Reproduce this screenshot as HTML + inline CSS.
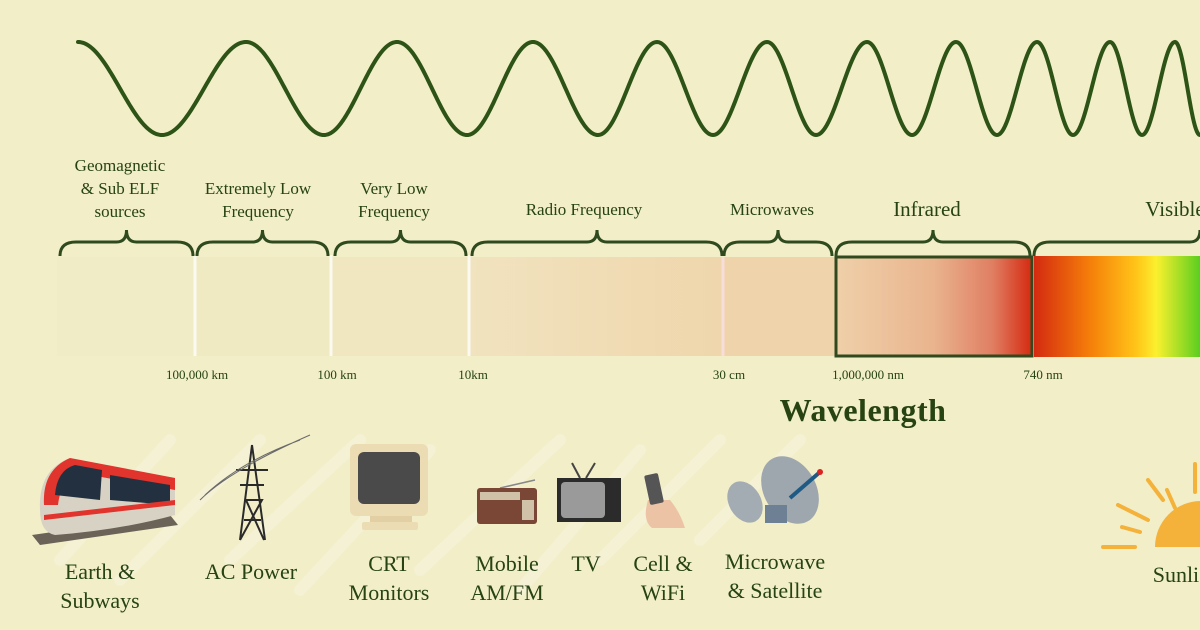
<!DOCTYPE html>
<html><head><meta charset="utf-8"><style>
html,body{margin:0;padding:0}
body{width:1200px;height:630px;background:#f1eec8;overflow:hidden;position:relative;font-family:"Liberation Serif",serif;color:#2c4a1a}
svg{position:absolute;left:0;top:0}
</style></head><body>
<svg width="1200" height="630" viewBox="0 0 1200 630" xmlns="http://www.w3.org/2000/svg">
<defs>
<linearGradient id="rf" x1="0" x2="1"><stop offset="0" stop-color="#f1e3bf"/><stop offset="1" stop-color="#efd6ac"/></linearGradient>
<linearGradient id="ir" x1="0" x2="1"><stop offset="0" stop-color="#efd0a9"/><stop offset="0.5" stop-color="#e9b48e"/><stop offset="0.8" stop-color="#e07e62"/><stop offset="1" stop-color="#d42a10"/></linearGradient>
<linearGradient id="vis" x1="0" x2="1"><stop offset="0" stop-color="#d42a10"/><stop offset="0.33" stop-color="#f57f0a"/><stop offset="0.6" stop-color="#ffc418"/><stop offset="0.72" stop-color="#fbf02e"/><stop offset="1" stop-color="#4ccb1e"/></linearGradient>
</defs>
<g stroke="#f6f4dc" stroke-width="12" stroke-linecap="round" opacity="0.6" fill="none">
<path d="M60 560 L170 440"/><path d="M120 580 L260 440"/><path d="M230 560 L360 440"/><path d="M300 590 L430 450"/><path d="M420 570 L560 440"/><path d="M520 590 L640 450"/><path d="M600 560 L720 440"/><path d="M700 540 L800 440"/>
</g>
<path id="wave" fill="none" stroke="#2d5416" stroke-width="4" stroke-linecap="round"/>
<rect x="57" y="257" width="138" height="99" fill="#efecc6"/>
<rect x="195" y="257" width="135" height="99" fill="#f0eac3"/>
<rect x="330" y="257" width="138" height="99" fill="#f0e6bf"/>
<rect x="468" y="257" width="254" height="99" fill="url(#rf)"/>
<rect x="722" y="257" width="113" height="99" fill="#efd3aa"/>
<rect x="836" y="257" width="196" height="99" fill="url(#ir)" stroke="#2f4a1e" stroke-width="3"/>
<rect x="1034" y="256" width="170" height="101" fill="url(#vis)"/>
<g stroke="#fbfaf0" stroke-width="3"><line x1="195" y1="255" x2="195" y2="356"/><line x1="331" y1="255" x2="331" y2="356"/><line x1="469" y1="255" x2="469" y2="356"/></g>
<line x1="723" y1="257" x2="723" y2="356" stroke="#f8dedb" stroke-width="3"/>
<g id="braces" fill="none" stroke="#2f4a1e" stroke-width="3"></g>
<g font-size="17" text-anchor="middle" fill="#274312">
<text x="120" y="171">Geomagnetic</text><text x="120" y="194">&amp; Sub ELF</text><text x="120" y="217">sources</text>
<text x="258" y="194">Extremely Low</text><text x="258" y="217">Frequency</text>
<text x="394" y="194">Very Low</text><text x="394" y="217">Frequency</text>
<text x="584" y="215">Radio Frequency</text>
<text x="772" y="215">Microwaves</text>
<text x="927" y="216" font-size="21">Infrared</text>
<text x="1175" y="216" font-size="21">Visible</text>
</g>
<g font-size="13" text-anchor="middle" fill="#274312">
<text x="197" y="379">100,000 km</text><text x="337" y="379">100 km</text><text x="473" y="379">10km</text>
<text x="729" y="379">30 cm</text><text x="868" y="379">1,000,000 nm</text><text x="1043" y="379">740 nm</text>
</g>
<text x="863" y="421" font-size="32" text-anchor="middle" fill="#274312" font-weight="bold" letter-spacing="0.5">Wavelength</text>
<g>
<path d="M32 535 L170 515 L178 525 L40 545 Z" fill="#6b6358"/>
<path d="M40 510 Q38 470 70 458 L175 478 L175 515 Q120 530 55 535 Q40 532 40 510 Z" fill="#d8d2c4"/>
<path d="M44 505 Q42 470 70 458 L175 478 L175 490 L90 475 Q62 470 58 505 Z" fill="#e0342c"/>
<path d="M55 495 Q57 470 75 465 L102 470 L100 500 Z" fill="#22303f"/>
<path d="M110 475 L170 485 L170 505 L110 500 Z" fill="#22303f"/>
<path d="M44 515 L175 500 L175 505 L44 520 Z" fill="#e0342c"/>
</g>
<g stroke="#2a2a2a" stroke-width="2" fill="none">
<path d="M252 445 L240 540 M252 445 L265 540 M240 540 L262 500 L246 500 L264 540 M244 520 L261 520 M236 470 L268 470 M240 485 L264 485"/>
<path d="M200 500 Q230 470 310 435 M205 495 Q240 462 300 440" stroke="#6a6a6a" stroke-width="1"/>
</g>
<g>
<rect x="350" y="444" width="78" height="72" rx="6" fill="#ecdcb4"/>
<rect x="358" y="452" width="62" height="52" rx="6" fill="#4a4a4a"/>
<rect x="370" y="516" width="42" height="6" fill="#e2cfa4"/>
<rect x="362" y="522" width="56" height="8" rx="2" fill="#ecdcb4"/>
</g>
<g><line x1="500" y1="488" x2="535" y2="480" stroke="#888" stroke-width="1.5"/>
<rect x="477" y="488" width="60" height="36" rx="3" fill="#7a4636"/>
<rect x="480" y="492" width="40" height="8" fill="#cfc2a8"/>
<rect x="522" y="500" width="12" height="20" fill="#cfc2a8"/></g>
<g><line x1="580" y1="478" x2="572" y2="463" stroke="#444" stroke-width="2"/><line x1="586" y1="478" x2="595" y2="463" stroke="#444" stroke-width="2"/>
<rect x="557" y="478" width="64" height="44" fill="#2b2b2b"/>
<rect x="561" y="482" width="44" height="36" rx="4" fill="#9a9a9a"/></g>
<g><path d="M648 500 Q642 520 652 528 L685 528 Q680 512 670 500 Z" fill="#edc3a5"/>
<rect x="647" y="474" width="14" height="30" rx="2" transform="rotate(-12 654 489)" fill="#555"/></g>
<g><ellipse cx="790" cy="490" rx="26" ry="36" transform="rotate(-30 790 490)" fill="#9ea6ae"/>
<ellipse cx="745" cy="502" rx="16" ry="22" transform="rotate(-30 745 502)" fill="#a3abb3"/>
<line x1="790" y1="498" x2="820" y2="472" stroke="#1f5a85" stroke-width="4"/><circle cx="820" cy="472" r="3" fill="#d22"/>
<rect x="765" y="505" width="22" height="18" fill="#6d8094"/></g>
<g fill="#f4b23a" stroke="#f4b23a" stroke-width="4" stroke-linecap="round">
<path d="M1155 547 A46 46 0 0 1 1247 547 Z" stroke="none"/>
<line x1="1103" y1="547" x2="1135" y2="547"/><line x1="1122" y1="527" x2="1140" y2="532"/><line x1="1118" y1="505" x2="1148" y2="520"/>
<line x1="1148" y1="480" x2="1163" y2="500"/><line x1="1167" y1="490" x2="1175" y2="508"/><line x1="1195" y1="464" x2="1195" y2="492"/>
</g>
<g font-size="22" text-anchor="middle" fill="#274312">
<text x="100" y="579">Earth &amp;</text><text x="100" y="608">Subways</text>
<text x="251" y="579">AC Power</text>
<text x="389" y="571">CRT</text><text x="389" y="600">Monitors</text>
<text x="507" y="571">Mobile</text><text x="507" y="600">AM/FM</text>
<text x="586" y="571">TV</text>
<text x="663" y="571">Cell &amp;</text><text x="663" y="600">WiFi</text>
<text x="775" y="569">Microwave</text><text x="775" y="598">&amp; Satellite</text>
<text x="1190" y="582">Sunlight</text>
</g>
</svg>
<script>
(function(){
var ex=[78,162,246,324,397,467,533,598,657,713,767,816,867,912,956,997,1037,1073,1110,1142,1175,1200,1222];
var d="";
for(var x=78;x<=1200;x++){
 var i=0;while(i<ex.length-2&&x>ex[i+1])i++;
 var t=(x-ex[i])/(ex[i+1]-ex[i]);
 var ph=(i+t)*Math.PI;
 var y=88.5-46.5*Math.cos(ph);
 d+=(x==78?"M":"L")+x+" "+y.toFixed(2);
}
document.getElementById("wave").setAttribute("d",d);
var br=[[60,193],[197,328],[335,466],[472,722],[724,832],[836,1030],[1034,1380]];
var g=document.getElementById("braces"),s="";
br.forEach(function(b){var a=b[0],c=b[1],m=(b[0]==1034)?1200:(a+c)/2;
 var p="M"+a+" 256 Q"+a+" 242 "+(a+16)+" 242 L"+(m-10)+" 242 Q"+m+" 242 "+m+" 230 Q"+m+" 242 "+(m+10)+" 242 L"+(c-16)+" 242 Q"+c+" 242 "+c+" 256";
 s+='<path d="'+p+'"/>';});
g.innerHTML=s;
})();
</script>
</body></html>
